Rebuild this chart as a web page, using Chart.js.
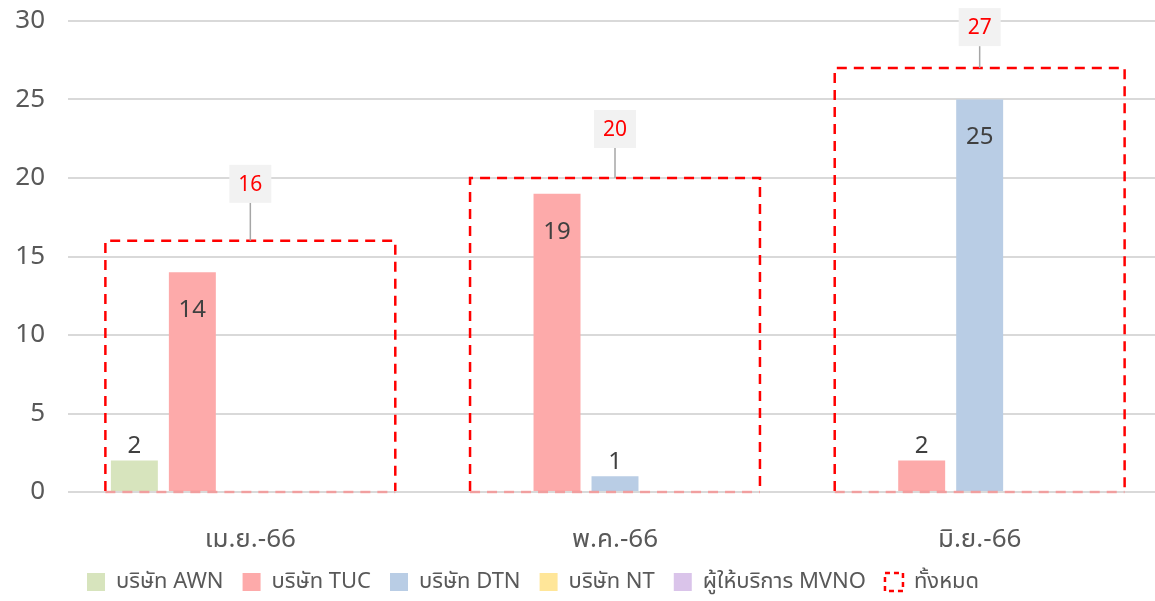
<!DOCTYPE html>
<html>
<head>
<meta charset="utf-8">
<script src="https://cdn.jsdelivr.net/npm/chart.js@4/dist/chart.umd.min.js"></script>
<style>
  html, body { margin: 0; padding: 0; background: #fff; overflow: hidden; }
  #wrap { width: 1162px; height: 601px; }
</style>
</head>
<body>
<div id="wrap"><canvas id="complaintChart"></canvas></div>
<script>
// Data for the chart
const months = ["เม.ย.-66", "พ.ค.-66", "มิ.ย.-66"];
const awn = [2, null, null];
const tuc = [14, 19, 2];
const dtn = [null, 1, 25];
const nt = [null, null, null];
const mvno = [null, null, null];
const total = [16, 20, 27];
const yTicks = [0, 5, 10, 15, 20, 25, 30];

const FONT = "Tahoma, 'Noto Sans Thai UI', 'Noto Sans Thai', 'Leelawadee UI', 'Noto Sans', 'DejaVu Sans', sans-serif";
const TEXT = "#595959";

// value labels on the company bars
const valueLabels = {
  id: "valueLabels",
  afterDatasetsDraw(chart) {
    const ctx = chart.ctx;
    ctx.save();
    ctx.font = "24px " + FONT;
    ctx.fillStyle = "#404040";
    ctx.textAlign = "center";
    ctx.textBaseline = "middle";
    chart.data.datasets.forEach((ds, i) => {
      if (ds.isTotal) return;
      const meta = chart.getDatasetMeta(i);
      meta.data.forEach((bar, j) => {
        const v = ds.data[j];
        if (v == null) return;
        const h = bar.base - bar.y;
        const y = h > 45 ? bar.y + 38 : bar.y - 14;
        ctx.fillText(String(v), bar.x, y);
      });
    });
    ctx.restore();
  }
};

// dashed outline + callout for the total series
const totalBoxes = {
  id: "totalBoxes",
  afterDatasetsDraw(chart) {
    const ctx = chart.ctx;
    chart.data.datasets.forEach((ds, i) => {
      if (!ds.isTotal) return;
      const meta = chart.getDatasetMeta(i);
      meta.data.forEach((bar, j) => {
        const left = bar.x - bar.width / 2;
        const right = bar.x + bar.width / 2;
        ctx.save();
        ctx.lineWidth = 2.5;
        ctx.setLineDash([10, 7]);
        ctx.strokeStyle = "#ff0000";
        ctx.beginPath();
        ctx.moveTo(left, bar.base);
        ctx.lineTo(left, bar.y);
        ctx.lineTo(right, bar.y);
        ctx.lineTo(right, bar.base);
        ctx.stroke();
        ctx.strokeStyle = "rgba(255,120,120,0.6)";
        ctx.beginPath();
        ctx.moveTo(left, bar.base + 1);
        ctx.lineTo(right, bar.base + 1);
        ctx.stroke();
        // callout
        const cy = bar.y - (57 - 8 * j);
        ctx.setLineDash([]);
        ctx.lineWidth = 1.5;
        ctx.strokeStyle = "#a6a6a6";
        ctx.beginPath();
        ctx.moveTo(bar.x, cy + 19);
        ctx.lineTo(bar.x, bar.y);
        ctx.stroke();
        ctx.fillStyle = "#f2f2f2";
        ctx.fillRect(bar.x - 21, cy - 19, 42, 38);
        ctx.fillStyle = "#ff0000";
        ctx.font = "21px " + FONT;
        ctx.textAlign = "center";
        ctx.textBaseline = "middle";
        ctx.fillText(String(ds.data[j]), bar.x, cy + 1);
        ctx.restore();
      });
    });
  }
};

const barOpts = { categoryPercentage: 0.795, barPercentage: 0.81, borderWidth: 0 };

const data = {
  labels: months,
  datasets: [
    { label: "บริษัท AWN", data: awn, backgroundColor: "#d7e4bd", ...barOpts },
    { label: "บริษัท TUC", data: tuc, backgroundColor: "#fdaaaa", ...barOpts },
    { label: "บริษัท DTN", data: dtn, backgroundColor: "#b9cde5", ...barOpts },
    { label: "บริษัท NT", data: nt, backgroundColor: "#ffe699", ...barOpts },
    { label: "ผู้ให้บริการ MVNO", data: mvno, backgroundColor: "#dac4ea", ...barOpts },
    {
      label: "ทั้งหมด", data: total, isTotal: true, grouped: false,
      backgroundColor: "rgba(0,0,0,0)", borderWidth: 0,
      categoryPercentage: 0.795, barPercentage: 1
    }
  ]
};

// Chart configuration
const config = {
  type: "bar",
  data: data,
  options: {
    responsive: true,
    maintainAspectRatio: false,
    animation: false,
    layout: { padding: { top: 21, right: 0, left: 0, bottom: 0 } },
    plugins: {
      tooltip: { enabled: false },
      legend: {
        position: "bottom",
        align: "start",
        fullSize: false,
        maxHeight: 49,
        labels: {
          font: { size: 22, family: FONT },
          color: TEXT,
          boxWidth: 18,
          boxHeight: 18,
          padding: 19,
          generateLabels(chart) {
            const items = Chart.defaults.plugins.legend.labels.generateLabels(chart);
            items.forEach(it => {
              if (it.datasetIndex === 5) {
                it.fillStyle = "rgba(0,0,0,0)";
                it.strokeStyle = "#ff0000";
                it.lineWidth = 2.5;
                it.lineDash = [5, 4];
              } else {
                it.lineWidth = 0;
              }
            });
            return items;
          }
        }
      }
    },
    scales: {
      x: {
        grid: { display: false },
        border: { display: false },
        afterFit(scale) {
          scale.height = 60;
          scale.paddingLeft = 0;
          scale.paddingRight = 0;
          scale._computeLabelArea = () => undefined; // let labels spill into legend gap
        },
        ticks: { font: { size: 26, family: FONT, lineHeight: 1 }, color: TEXT, padding: 27 }
      },
      y: {
        min: 0,
        max: 30,
        afterBuildTicks(scale) { scale.ticks = yTicks.map(v => ({ value: v })); },
        afterFit(scale) { scale.width = 68; scale.paddingTop = 0; scale.paddingBottom = 0; },
        grid: { color: "#d9d9d9", lineWidth: 2, drawTicks: false },
        border: { display: false },
        ticks: { font: { size: 26, family: FONT }, color: TEXT, padding: 23 }
      }
    }
  },
  plugins: [valueLabels, totalBoxes]
};

// Create the chart
const complaintChart = new Chart(document.getElementById("complaintChart"), config);
</script>
</body>
</html>
